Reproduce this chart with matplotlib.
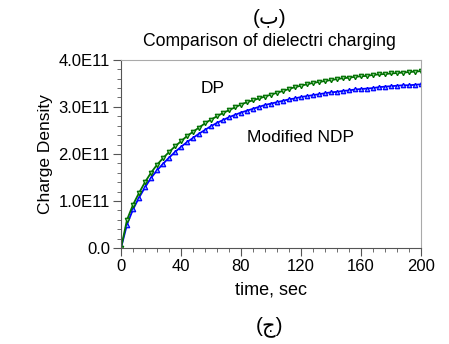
import numpy as np
import matplotlib.pyplot as plt
from matplotlib.ticker import MultipleLocator

plt.rcParams['font.family'] = ['Liberation Sans', 'DejaVu Sans']

# time axis, sec (markers every 4 s)
time_sec = list(range(0, 201, 4))

# charge density, units of 1E11
dp = [0.00, 0.60, 0.92, 1.17, 1.40, 1.60, 1.77, 1.91, 2.04, 2.16,
      2.27, 2.38, 2.47, 2.56, 2.65, 2.73, 2.80, 2.87, 2.93, 2.99,
      3.05, 3.10, 3.14, 3.18, 3.22, 3.26, 3.30, 3.34, 3.38, 3.42,
      3.45, 3.48, 3.51, 3.53, 3.55, 3.57, 3.59, 3.61, 3.62, 3.64,
      3.65, 3.66, 3.68, 3.69, 3.70, 3.71, 3.72, 3.73, 3.74, 3.75, 3.76]
ndp = [0.00, 0.50, 0.82, 1.07, 1.29, 1.49, 1.65, 1.79, 1.92, 2.04,
       2.15, 2.25, 2.34, 2.43, 2.51, 2.59, 2.66, 2.72, 2.78, 2.83,
       2.88, 2.92, 2.96, 3.00, 3.04, 3.07, 3.10, 3.13, 3.16, 3.18,
       3.21, 3.23, 3.25, 3.27, 3.29, 3.31, 3.32, 3.34, 3.35, 3.37,
       3.38, 3.39, 3.40, 3.42, 3.43, 3.44, 3.45, 3.46, 3.46, 3.47, 3.48]

y_ticks = [0.0, 1.0, 2.0, 3.0, 4.0]
y_labels = ["0.0", "1.0E11", "2.0E11", "3.0E11", "4.0E11"]

fig = plt.figure(figsize=(4.49, 3.44), dpi=100)
ax = fig.add_axes([0.2695, 0.279, 0.668, 0.547])

ax.plot(time_sec, ndp, color="#0000ff", lw=1.3, marker="^", ms=3.2,
        mfc="#8fb0ff", mec="#0000ff", mew=0.9)
ax.plot(time_sec, dp, color="#007000", lw=1.3, marker="v", ms=3.2,
        mfc="#8fcf8f", mec="#007000", mew=0.9)

ax.set_xlim(0, 200)
ax.set_ylim(0, 4.0)
ax.set_xticks([0, 40, 80, 120, 160, 200])
ax.xaxis.set_minor_locator(MultipleLocator(8))
ax.set_yticks(y_ticks)
ax.set_yticklabels(y_labels)
ax.yaxis.set_minor_locator(MultipleLocator(0.2))
ax.tick_params(which="major", length=6, labelsize=12, color="#555555", pad=2)
ax.tick_params(which="minor", length=3, color="#555555")

for side in ["left", "bottom"]:
    ax.spines[side].set_color("#555555")
for side in ["top", "right"]:
    ax.spines[side].set_color("#aaaaaa")

ax.set_xlabel("time, sec", fontsize=13, labelpad=5)
ax.set_ylabel("Charge Density", fontsize=12.5, labelpad=4)

ax.text(0.305, 0.85, "DP", transform=ax.transAxes, fontsize=12.5,
        ha="center", va="center")
ax.text(0.6, 0.585, "Modified NDP", transform=ax.transAxes, fontsize=12.5,
        ha="center", va="center")

fig.text(0.6, 0.878, "Comparison of dielectri charging", fontsize=12.7,
         ha="center", va="center")
fig.text(0.6, 0.947, "(ب)", fontsize=15, ha="center", va="center")
fig.text(0.6, 0.05, "(ج)", fontsize=15, ha="center", va="center")

fig.savefig("out.png", dpi=100)
